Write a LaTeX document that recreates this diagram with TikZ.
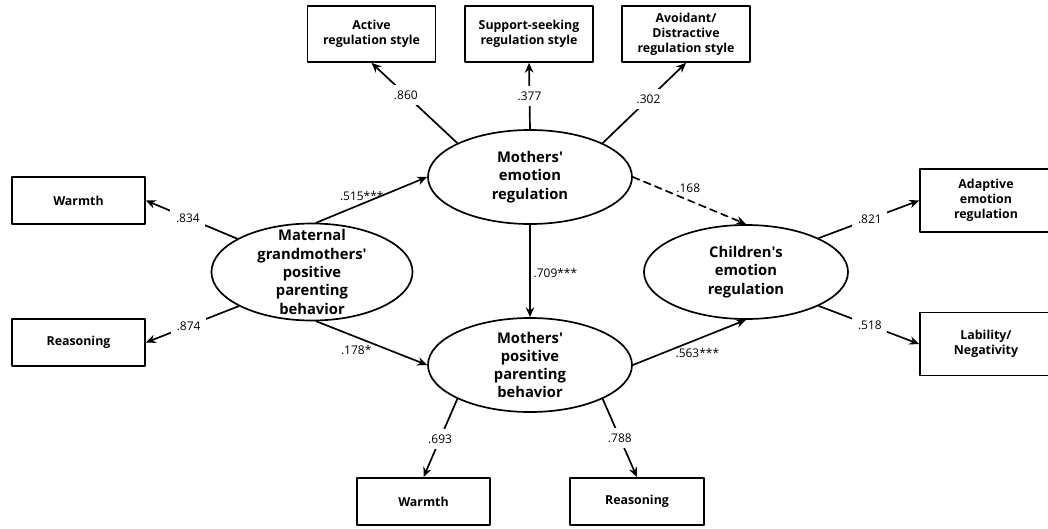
\documentclass[tikz,border=0pt]{standalone}
\usepackage{fontspec}
\setmainfont{Open Sans}
\usetikzlibrary{arrows.meta, shapes.geometric}

\begin{document}
\begin{tikzpicture}[x=0.025cm, y=-0.025cm, line cap=round, line join=round,
    latent/.style={draw, ellipse, line width=1.2pt, inner sep=0pt,
        minimum width=5.1cm, minimum height=2.35cm},
    lattext/.style={align=center, inner sep=0pt,
        font=\bfseries\fontsize{10.5}{13}\selectfont},
    obs/.style={draw, line width=1.2pt, inner sep=0pt, align=center,
        font=\bfseries\fontsize{8.8}{10.6}\selectfont},
    topbox/.style={obs, minimum width=3.2cm, minimum height=1.4cm},
    sidebox/.style={obs, minimum width=3.325cm, minimum height=1.175cm},
    rightbox/.style={obs, minimum width=3.3cm, minimum height=1.575cm},
    path/.style={line width=1.2pt, -{Stealth[length=7pt, width=6pt]}},
    coef/.style={inner sep=1pt, font=\fontsize{8.5}{10}\selectfont},
    loadcoef/.style={coef, fill=white, inner sep=4pt}]

    \useasboundingbox (0,0) rectangle (1048,528);

    % latent variables
    \node[latent, minimum width=5.025cm, minimum height=2.425cm,
        label={[lattext]center:{Maternal\\grandmothers\textquotesingle\\positive\\parenting\\behavior}}] (gm) at (312,272) {};
    \node[latent, label={[lattext]center:{Mothers\textquotesingle\\emotion\\regulation}}] (me) at (530,177) {};
    \node[latent, label={[lattext]center:{Mothers\textquotesingle\\positive\\parenting\\behavior}}] (mp) at (530,365) {};
    \node[latent, label={[lattext]center:{Children\textquotesingle s\\emotion\\regulation}}] (ce) at (746,272) {};

    % indicators
    \node[topbox] (act) at (371.5,34) {Active\\regulation style};
    \node[topbox] (sup) at (529,34) {Support-seeking\\regulation style};
    \node[topbox] (avo) at (686,34) {Avoidant/\\Distractive\\regulation style};
    \node[sidebox] (gmw) at (78.5,200.5) {Warmth};
    \node[sidebox] (gmr) at (78.5,342.5) {Reasoning};
    \node[sidebox] (mpw) at (423.5,501.5) {Warmth};
    \node[sidebox, minimum width=3.35cm] (mpr) at (637,501.5) {Reasoning};
    \node[rightbox] (ada) at (986,200.5) {Adaptive\\emotion\\regulation};
    \node[rightbox] (lab) at (986,344) {Lability/\\Negativity};

    % loadings
    \draw[path] (me.155) -- node[loadcoef, pos=0.6] {.860} (act.south);
    \draw[path] (me.north) -- node[loadcoef, pos=0.5] {.377} (sup.south);
    \draw[path] (me.25) -- node[loadcoef, pos=0.55] {.302} (avo.south);
    \draw[path] (gm.156) -- node[loadcoef, pos=0.54] {.834} (gmw.east);
    \draw[path] (gm.205) -- node[loadcoef, pos=0.54] {.874} (gmr.east);
    \draw[path] (mp.205) -- node[loadcoef, pos=0.51] {.693} (mpw.north);
    \draw[path] (mp.335) -- node[loadcoef, pos=0.5] {.788} (mpr.north);
    \draw[path] (ce.25) -- node[loadcoef, pos=0.51] {.821} (ada.west);
    \draw[path] (ce.335) -- node[loadcoef, pos=0.51] {.518} (lab.west);

    % structural paths
    \draw[path] (gm.85) -- node[coef, pos=0.41, above=1pt] {.515***} (me.west);
    \draw[path] (gm.275) -- node[coef, pos=0.36, below=4pt] {.178*} (mp.west);
    \draw[path] (me.south) -- node[coef, pos=0.52, right=1pt] {.709***} (mp.north);
    \draw[path, dash pattern=on 5pt off 3.5pt] (me.east) -- node[coef, pos=0.49, above=4pt] {.168} (ce.north);
    \draw[path] (mp.east) -- node[coef, pos=0.57, below=5pt] {.563***} (ce.south);

\end{tikzpicture}
\end{document}
